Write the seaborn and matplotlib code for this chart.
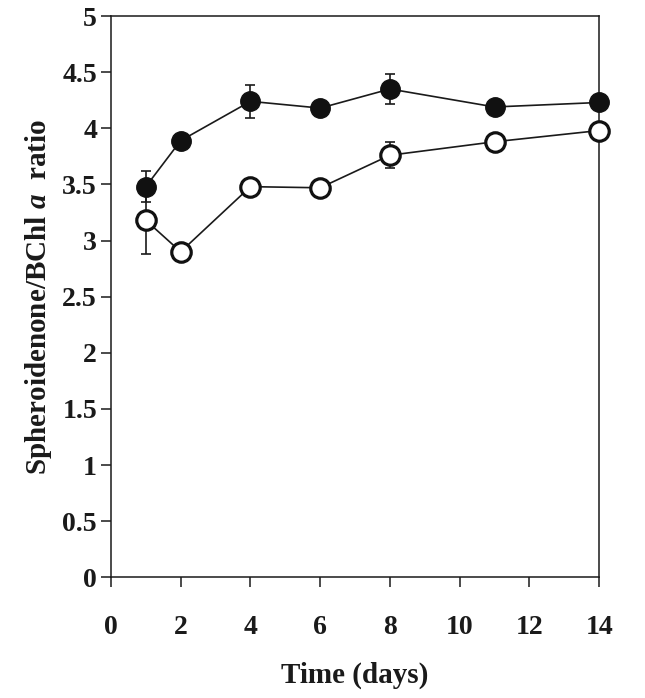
import numpy as np
import pandas as pd
import matplotlib
matplotlib.use('Agg')
import matplotlib.pyplot as plt
import seaborn as sns

### data
days = [1, 2, 4, 6, 8, 11, 14]
filled = [3.48, 3.89, 4.24, 4.18, 4.35, 4.19, 4.23]
filled_err = [0.14, 0.0, 0.15, 0.05, 0.13, 0.0, 0.0]
hollow = [3.18, 2.90, 3.48, 3.47, 3.76, 3.88, 3.98]
hollow_err = [0.30, 0.0, 0.0, 0.0, 0.115, 0.0, 0.0]

df = pd.DataFrame({'day': days, 'filled': filled, 'hollow': hollow})

sns.set_style('ticks')
plt.rcParams['font.family'] = ['Liberation Serif', 'DejaVu Serif']
plt.rcParams['font.weight'] = 'bold'
plt.rcParams['mathtext.fontset'] = 'custom'
plt.rcParams['mathtext.rm'] = 'Liberation Serif:bold'
plt.rcParams['mathtext.it'] = 'Liberation Serif:bold:italic'

fig = plt.figure(figsize=(6.45, 6.98), dpi=100)
ax = fig.add_axes([0.172, 0.173, 0.757, 0.804])

# error bars first so markers sit on top
ax.errorbar(days, filled, yerr=filled_err, fmt='none', ecolor='#1a1a1a',
            elinewidth=1.2, capsize=3.5, capthick=1.2, zorder=2, clip_on=False)
ax.errorbar(days, hollow, yerr=hollow_err, fmt='none', ecolor='#1a1a1a',
            elinewidth=1.2, capsize=3.5, capthick=1.2, zorder=2, clip_on=False)

sns.lineplot(data=df, x='day', y='filled', ax=ax, color='#1a1a1a', lw=1.2,
             marker='o', markersize=14, markerfacecolor='#111111',
             markeredgecolor='#111111', markeredgewidth=1, zorder=3, clip_on=False)
sns.lineplot(data=df, x='day', y='hollow', ax=ax, color='#1a1a1a', lw=1.2,
             marker='o', markersize=14, markerfacecolor='white',
             markeredgecolor='#111111', markeredgewidth=2.3, zorder=4, clip_on=False)

ax.set_xlim(0, 14)
ax.set_ylim(0, 5)
ax.set_xticks(np.arange(0, 15, 2))
ax.set_yticks(np.arange(0, 5.01, 0.5))
ax.set_yticklabels(['0', '0.5', '1', '1.5', '2', '2.5', '3', '3.5', '4', '4.5', '5'])

for s in ax.spines.values():
    s.set_linewidth(1.1)
    s.set_color('#1a1a1a')
    s.set_visible(True)

ax.tick_params(axis='both', direction='out', length=7, width=1.1,
               color='#1a1a1a', labelsize=20, labelcolor='#1a1a1a')
ax.tick_params(axis='x', pad=20)
ax.tick_params(axis='y', pad=3)
for lab in ax.get_xticklabels() + ax.get_yticklabels():
    lab.set_fontweight('bold')

ax.set_xlabel('Time (days)', fontsize=21, fontweight='bold', color='#1a1a1a', labelpad=16)
ax.set_ylabel(r'Spheroidenone/BChl $a$  ratio', fontsize=21, fontweight='bold',
              color='#1a1a1a', labelpad=6)

fig.savefig('out.png', dpi=100)
